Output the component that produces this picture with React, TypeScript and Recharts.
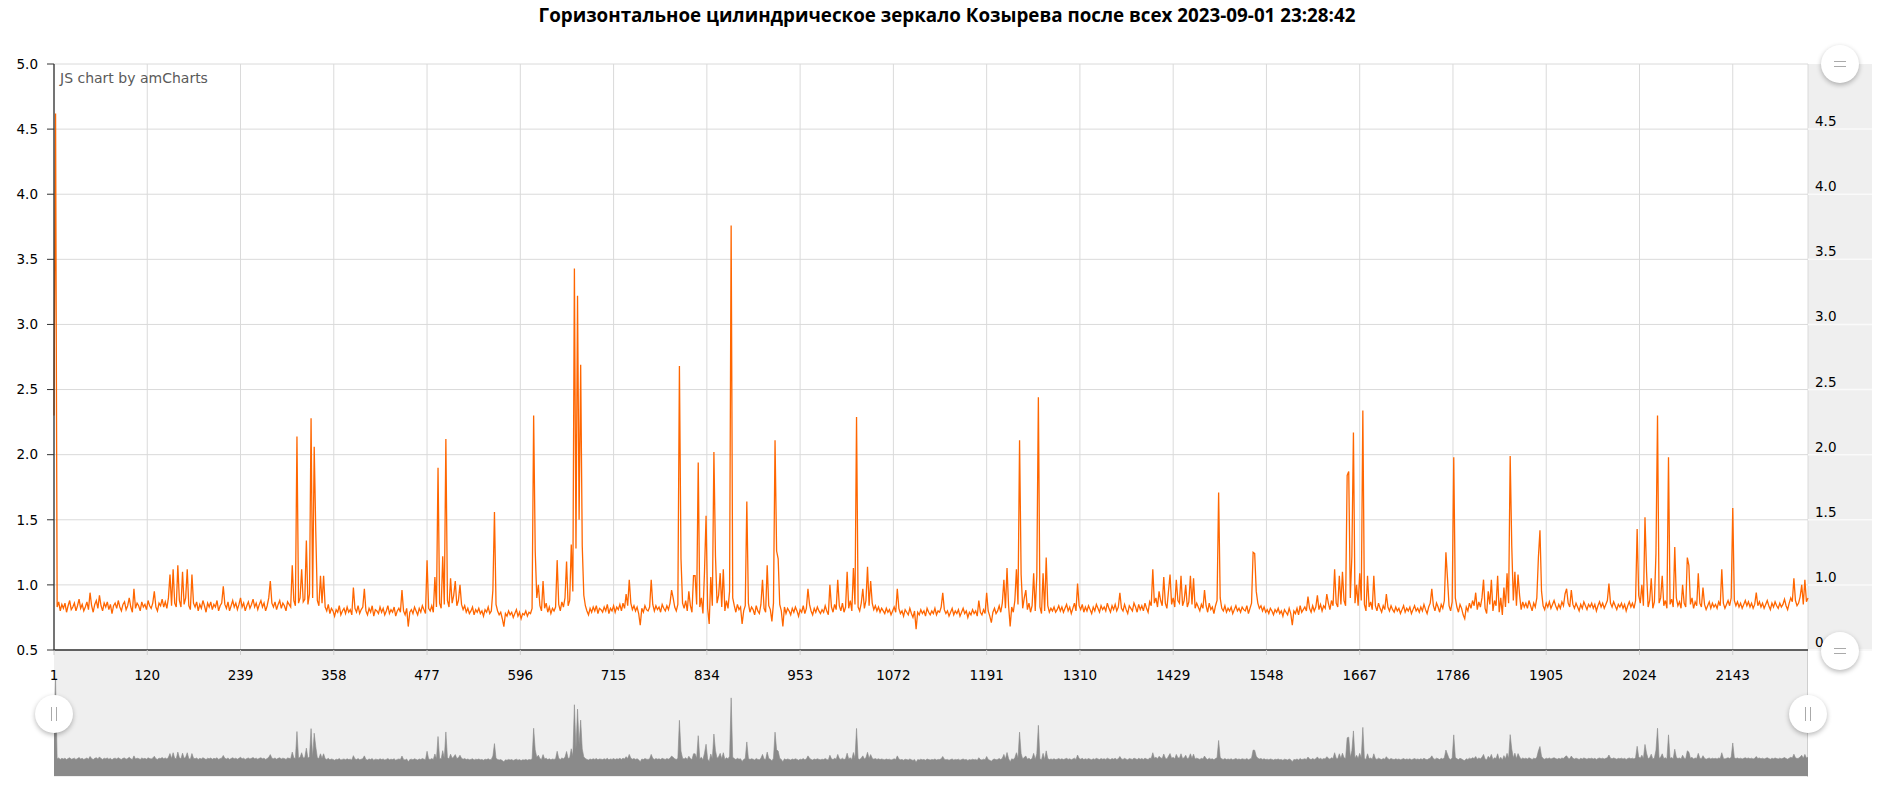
import React from 'react';
import { LineChart, Line, XAxis, YAxis, CartesianGrid, AreaChart, Area } from 'recharts';

const title = 'Горизонтальное цилиндрическое зеркало Козырева после всех 2023-09-01 23:28:42';

// sampled values (every second sample index: 1, 3, 5, ... 2239)
const segA = [
  2.3, 4.62, 0.83, 0.87, 0.8, 0.85, 0.82, 0.86, 0.79, 0.84,
  0.88, 0.81, 0.83, 0.86, 0.8, 0.84, 0.89, 0.82, 0.85, 0.8,
  0.83, 0.87, 0.81, 0.94, 0.84, 0.79, 0.85, 0.88, 0.82, 0.92,
  0.84, 0.8, 0.86, 0.83, 0.87, 0.81, 0.85, 0.78, 0.84, 0.86,
  0.82, 0.88, 0.83, 0.8, 0.85, 0.87, 0.81, 0.84, 0.9, 0.83,
  0.79, 0.97, 0.82, 0.86, 0.84, 0.8, 0.87, 0.83, 0.85, 0.81,
  0.88, 0.84, 0.82, 0.86, 0.95, 0.83, 0.8, 0.86, 0.84, 0.89,
  0.83, 0.87, 0.82, 0.9, 1.08, 0.84, 1.12, 0.86, 0.83, 1.15,
];
const segB = [
  0.88, 0.83, 1.1, 0.85, 0.9, 1.12, 0.84, 0.81, 1.08, 0.86,
  0.83, 0.87, 0.8, 0.85, 0.82, 0.88, 0.84, 0.79, 0.86, 0.83,
  0.87, 0.81, 0.85, 0.83, 0.88, 0.8, 0.84, 0.86, 0.99, 0.85,
  0.82, 0.87, 0.8, 0.84, 0.88, 0.83, 0.86, 0.81, 0.85, 0.9,
  0.83, 0.86, 0.8, 0.84, 0.87, 0.82, 0.85, 0.89, 0.83, 0.86,
  0.81, 0.85, 0.88, 0.83, 0.86, 0.8, 0.84, 0.9, 1.03, 0.86,
  0.83, 0.87, 0.81, 0.85, 0.88, 0.82, 0.86, 0.84, 0.8, 0.87,
  0.85, 0.83, 1.15, 0.88, 0.84, 2.14, 0.86, 0.9, 1.12, 0.87,
];
const segC = [
  0.89, 1.34, 0.85, 0.93, 2.28, 0.9, 2.06, 1.41, 0.88, 0.84,
  1.07, 0.86, 1.07, 0.83, 0.8, 0.85, 0.78, 0.82, 0.8, 0.76,
  0.81, 0.79, 0.84, 0.77, 0.8, 0.82, 0.78, 0.83, 0.79, 0.81,
  0.77, 0.98, 0.82, 0.79, 0.84, 0.78, 0.81, 0.83, 0.97, 0.8,
  0.77, 0.82, 0.79, 0.84, 0.76, 0.81, 0.8, 0.78, 0.83, 0.79,
  0.82, 0.77, 0.8, 0.84, 0.78, 0.81, 0.79, 0.83, 0.76, 0.8,
  0.82, 0.79, 0.96, 0.8, 0.77, 0.82, 0.68, 0.79, 0.81, 0.78,
  0.83, 0.8, 0.77, 0.82, 0.79, 0.84, 0.81, 0.78, 1.19, 0.82,
];
const segD = [
  0.8, 0.84, 0.79, 1.06, 0.83, 1.9, 0.86, 0.82, 1.22, 0.85,
  2.12, 0.88, 0.83, 1.05, 0.86, 0.92, 1.03, 0.84, 0.88, 1.0,
  0.85, 0.81, 0.84, 0.79, 0.82, 0.78, 0.8, 0.83, 0.77, 0.81,
  0.79, 0.82, 0.78, 0.8, 0.76, 0.81, 0.79, 0.83, 0.78, 0.8,
  0.96, 1.56, 0.85, 0.8, 0.77, 0.79, 0.74, 0.68, 0.78, 0.76,
  0.8, 0.77, 0.79, 0.75, 0.78, 0.81, 0.76, 0.79, 0.74, 0.78,
  0.77, 0.8, 0.76, 0.79, 0.78, 0.82, 2.3, 1.26, 0.9, 1.0,
  0.84, 0.8, 1.03, 0.82, 0.86, 0.79, 0.83, 0.78, 0.82, 0.8,
];
const segE = [
  0.83, 1.19, 0.85, 0.8, 0.87, 0.83, 0.9, 1.18, 0.84, 0.88,
  1.31, 0.95, 3.43, 1.28, 3.22, 1.5, 2.69, 1.3, 0.92, 0.84,
  0.8, 0.77, 0.82, 0.79, 0.83, 0.8, 0.84, 0.78, 0.82, 0.81,
  0.79, 0.83, 0.8, 0.85, 0.78, 0.82, 0.8, 0.84, 0.79, 0.83,
  0.81, 0.85, 0.8, 0.86, 0.82, 0.93, 0.84, 1.04, 0.86, 0.81,
  0.84, 0.8, 0.83, 0.78, 0.69, 0.82, 0.79, 0.84, 0.81, 0.8,
  0.83, 1.04, 0.85, 0.8, 0.84, 0.81, 0.83, 0.79, 0.85, 0.82,
  0.8, 0.84, 0.81, 0.86, 0.96, 0.9, 0.83, 0.8, 0.85, 2.68,
];
const segF = [
  1.2, 0.86, 0.82, 0.88, 0.8, 0.95, 0.84, 0.79, 1.07, 1.07,
  0.85, 1.94, 0.83, 0.9, 0.78, 1.1, 1.53, 0.82, 0.7, 1.06,
  0.84, 2.02, 1.22, 0.86, 0.92, 1.09, 0.83, 1.12, 0.8, 0.88,
  0.82, 0.95, 3.76, 0.9, 0.84, 0.79, 0.85, 0.81, 0.83, 0.7,
  0.8, 0.84, 1.64, 0.86, 0.79, 0.83, 0.81, 0.77, 0.84, 0.8,
  0.78, 0.85, 1.04, 0.82, 0.79, 1.15, 0.84, 0.81, 0.72, 0.86,
  2.11, 1.26, 1.2, 0.85, 0.8, 0.68, 0.83, 0.78, 0.82, 0.8,
  0.77, 0.82, 0.79, 0.83, 0.8, 0.76, 0.81, 0.79, 0.84, 0.78,
];
const segG = [
  0.82, 0.97, 0.85, 0.8, 0.77, 0.82, 0.79, 0.83, 0.8, 0.78,
  0.81, 0.79, 0.84, 0.8, 0.77, 1.0, 0.83, 0.79, 0.85, 0.81,
  1.04, 0.84, 0.8, 0.86, 0.79, 0.83, 1.1, 0.82, 0.88, 0.8,
  1.13, 0.85, 2.29, 0.83, 0.8, 0.86, 0.97, 0.82, 0.88, 1.14,
  0.84, 1.03, 0.86, 0.81, 0.84, 0.8, 0.83, 0.79, 0.82, 0.8,
  0.78, 0.82, 0.79, 0.81, 0.77, 0.8, 0.83, 0.79, 0.97, 0.82,
  0.78, 0.8, 0.76, 0.81, 0.79, 0.77, 0.82, 0.78, 0.75, 0.8,
  0.66, 0.79, 0.77, 0.81, 0.78, 0.8, 0.76, 0.82, 0.79, 0.77,
];
const segH = [
  0.8, 0.78, 0.82, 0.77, 0.8, 0.79, 0.83, 0.94, 0.81, 0.78,
  0.8, 0.76, 0.79, 0.82, 0.77, 0.8, 0.78, 0.81, 0.76, 0.79,
  0.82, 0.78, 0.8, 0.75, 0.79, 0.77, 0.81, 0.78, 0.8, 0.76,
  0.88, 0.79, 0.77, 0.81, 0.78, 0.94, 0.8, 0.76, 0.71, 0.79,
  0.82, 0.78, 0.8, 0.84, 0.79, 0.86, 1.04, 0.82, 1.13, 0.84,
  0.68, 0.83, 0.79, 0.88, 1.12, 0.85, 2.11, 1.08, 0.82, 0.9,
  0.96, 0.81, 0.86, 0.79, 0.84, 1.09, 0.8, 1.07, 2.44, 0.83,
  0.78, 1.09, 0.8, 1.21, 0.84, 0.79, 0.82, 0.8, 0.83, 0.79,
];
const segI = [
  0.81, 0.84, 0.8, 0.83, 0.79, 0.82, 0.85, 0.8, 0.83, 0.78,
  0.82, 0.86, 0.8, 1.01, 0.84, 0.81, 0.85, 0.79, 0.83, 0.8,
  0.84, 0.81, 0.78, 0.83, 0.8, 0.85, 0.82, 0.79, 0.84, 0.81,
  0.83, 0.8, 0.86, 0.82, 0.79, 0.84, 0.81, 0.85, 0.8, 0.83,
  0.94, 0.82, 0.8, 0.85, 0.81, 0.78, 0.84, 0.82, 0.8, 0.86,
  0.83, 0.79, 0.85, 0.81, 0.84, 0.8, 0.86, 0.82, 0.79, 0.87,
  0.84, 1.12, 0.86, 0.9, 0.83, 0.95, 0.88, 0.84, 1.06, 0.86,
  0.82, 0.95, 1.08, 0.85, 0.9, 0.83, 1.04, 0.88, 0.86, 1.07,
];
const segJ = [
  0.84, 0.88, 1.0, 0.83, 0.87, 1.07, 0.85, 1.05, 0.82, 0.86,
  0.83, 0.8, 0.85, 0.82, 0.96, 0.84, 0.79, 0.86, 0.81, 0.83,
  0.78, 0.84, 0.88, 1.71, 0.9, 0.82, 0.8, 0.84, 0.79, 0.82,
  0.8, 0.83, 0.78, 0.81, 0.84, 0.8, 0.82, 0.79, 0.83, 0.81,
  0.8, 0.84, 0.78, 0.82, 0.86, 1.25, 1.24, 0.95, 0.86, 0.82,
  0.84, 0.8, 0.83, 0.79, 0.81, 0.78, 0.82, 0.8, 0.77, 0.81,
  0.79, 0.82, 0.78, 0.8, 0.76, 0.81, 0.79, 0.77, 0.82, 0.78,
  0.69, 0.8, 0.78, 0.82, 0.77, 0.84, 0.79, 0.81, 0.83, 0.8,
];
const segK = [
  0.91, 0.82, 0.79, 0.84, 0.8, 0.83, 0.92, 0.81, 0.85, 0.8,
  0.84, 0.82, 0.93, 0.86, 0.81, 0.88, 0.84, 1.12, 0.86, 0.83,
  1.07, 0.85, 1.1, 0.88, 0.84, 1.84, 1.87, 0.9, 1.22, 2.17,
  0.86, 1.0, 0.84, 1.09, 0.88, 2.34, 0.85, 0.8, 1.07, 0.83,
  0.87, 0.81, 1.07, 0.84, 0.8, 0.86, 0.82, 0.79, 0.84, 0.81,
  0.93, 0.83, 0.8, 0.84, 0.81, 0.79, 0.83, 0.8, 0.82, 0.78,
  0.81, 0.84, 0.79, 0.82, 0.8, 0.83, 0.78, 0.81, 0.84, 0.8,
  0.82, 0.79, 0.83, 0.8, 0.85, 0.81, 0.78, 0.83, 0.86, 0.97,
];
const segL = [
  0.84, 0.8, 0.86, 0.83, 0.79, 0.85, 0.82, 0.88, 1.25, 1.05,
  0.84, 0.8, 0.87, 1.98, 0.9, 0.83, 0.79, 0.85, 0.82, 0.77,
  0.74, 0.83, 0.8, 0.86, 0.82, 0.88, 0.84, 0.94, 0.81, 0.87,
  0.83, 0.9, 1.04, 0.82, 0.78, 0.95, 0.85, 1.04, 0.8, 0.88,
  0.84, 1.07, 0.79, 0.9, 0.77, 0.98, 0.83, 1.09, 0.86, 1.99,
  1.3, 0.88, 1.1, 0.84, 1.08, 0.92, 0.81, 0.87, 0.83, 0.86,
  0.82, 0.88, 0.84, 0.8, 0.86, 0.83, 0.9, 1.21, 1.42, 0.95,
  0.84, 0.81, 0.86, 0.83, 0.87, 0.82, 0.85, 0.88, 0.84, 0.81,
];
const segM = [
  0.85, 0.82, 0.87, 0.84, 0.93, 0.97, 0.86, 0.83, 0.96, 0.85,
  0.82, 0.86, 0.83, 0.8, 0.85, 0.82, 0.87, 0.84, 0.81, 0.85,
  0.83, 0.86, 0.82, 0.85, 0.8, 0.84, 0.87, 0.83, 0.86, 0.82,
  0.85, 0.88, 1.01, 0.86, 0.83, 0.87, 0.84, 0.81, 0.85, 0.83,
  0.86, 0.82, 0.85, 0.8, 0.84, 0.87, 0.83, 0.86, 0.82, 0.88,
  1.43, 0.92, 0.86, 1.0, 0.84, 1.52, 1.1, 0.83, 0.88, 1.05,
  0.82, 0.87, 1.24, 2.3, 0.86, 0.9, 1.07, 0.84, 0.88, 0.82,
  1.98, 0.85, 0.89, 0.83, 1.29, 0.9, 0.84, 0.87, 0.82, 1.0,
];
const segN = [
  0.86, 0.83, 1.21, 1.15, 0.85, 0.9, 0.82, 0.87, 0.84, 1.09,
  0.86, 0.83, 0.98, 0.85, 0.81, 0.84, 0.87, 0.82, 0.86, 0.83,
  0.85, 0.82, 0.87, 0.84, 1.12, 0.86, 0.82, 0.85, 0.88, 0.84,
  0.9, 1.59, 0.88, 0.84, 0.87, 0.83, 0.86, 0.82, 0.85, 0.88,
  0.84, 0.87, 0.83, 0.86, 0.82, 0.85, 0.94, 0.84, 0.87, 0.83,
  0.86, 0.82, 0.85, 0.88, 0.84, 0.81, 0.86, 0.83, 0.87, 0.84,
  0.82, 0.86, 0.83, 0.85, 0.89, 0.84, 0.81, 0.86, 0.9, 0.87,
  1.05, 0.88, 0.84, 0.86, 0.91, 1.0, 0.85, 1.04, 0.87, 0.9,
];

const values = [
  ...segA, ...segB, ...segC, ...segD, ...segE, ...segF, ...segG,
  ...segH, ...segI, ...segJ, ...segK, ...segL, ...segM, ...segN,
];
const sampleIndex = values.map((_, i) => 1 + 2 * i);
const data = values.map((v, i) => ({ x: sampleIndex[i], v }));

const xDomain: [number, number] = [1, 2239];
const xTicks = [1, 120, 239, 358, 477, 596, 715, 834, 953, 1072, 1191, 1310, 1429, 1548, 1667, 1786, 1905, 2024, 2143];
const yTicks = [0.5, 1, 1.5, 2, 2.5, 3, 3.5, 4, 4.5, 5];
const rightTicks = [0.5, 1, 1.5, 2, 2.5, 3, 3.5, 4, 4.5];
const rightTickLabels = ['0', '1.0', '1.5', '2.0', '2.5', '3.0', '3.5', '4.0', '4.5'];

const FONT = '"DejaVu Sans", Verdana, sans-serif';

const RightTick = (props: any) => {
  const { x, y, payload } = props;
  const idx = rightTicks.indexOf(payload.value);
  return (
    <g>
      <line x1={x - 7} x2={x + 57} y1={y} y2={y} stroke="#fafafa" strokeWidth={1.5} />
      <text x={x} y={y - 3} fontSize={13.5} fill="#000" fontFamily={FONT} textAnchor="start">
        {rightTickLabels[idx]}
      </text>
    </g>
  );
};

const Button = ({ cx, cy, kind }: { cx: number; cy: number; kind: 'h' | 'v' }) => (
  <div
    style={{
      position: 'absolute',
      left: cx - 19,
      top: cy - 19,
      width: 38,
      height: 38,
      borderRadius: '50%',
      background: '#fff',
      boxShadow: '0 2px 5px rgba(0,0,0,0.28)',
      zIndex: 5,
    }}
  >
    {kind === 'h' ? (
      <>
        <div style={{ position: 'absolute', left: 13, top: 16, width: 12, height: 1, background: '#aaa' }} />
        <div style={{ position: 'absolute', left: 13, top: 21, width: 12, height: 1, background: '#aaa' }} />
      </>
    ) : (
      <>
        <div style={{ position: 'absolute', left: 16, top: 12, width: 1, height: 14, background: '#aaa' }} />
        <div style={{ position: 'absolute', left: 21, top: 12, width: 1, height: 14, background: '#aaa' }} />
      </>
    )}
  </div>
);

export default function App() {
  return (
    <div style={{ position: 'absolute', left: 0, top: 0, width: 1882, height: 787, background: '#fff', overflow: 'hidden', fontFamily: FONT }}>
      <div
        style={{
          position: 'absolute', left: 6, top: 4, width: 1882, textAlign: 'center', whiteSpace: 'nowrap',
          fontFamily: '"Open Sans", sans-serif', fontWeight: 700, fontSize: 18.8, lineHeight: '22px', color: '#000',
        }}
      >
        {title}
      </div>

      {/* right value strip */}
      <div style={{ position: 'absolute', left: 1808, top: 64, width: 64, height: 587, background: '#efefef' }} />
      {/* bottom scrollbar background */}
      <div style={{ position: 'absolute', left: 54, top: 650, width: 1754, height: 127, background: '#efefef' }} />
      <div style={{ position: 'absolute', left: 1807, top: 651, width: 1, height: 126, background: '#cfcfcf' }} />

      <div style={{ position: 'absolute', left: 54, top: 680, zIndex: 2 }}>
        <AreaChart width={1754} height={96} data={data} margin={{ top: 0, right: 0, bottom: 0, left: 0 }}>
          <XAxis dataKey="x" type="number" domain={xDomain} hide />
          <YAxis domain={[0, 'dataMax']} hide />
          <Area type="linear" dataKey="v" stroke="#8a8a8a" strokeWidth={0.6} fill="#8a8a8a" fillOpacity={1} isAnimationActive={false} dot={false} activeDot={false} />
        </AreaChart>
      </div>

      <div style={{ position: 'absolute', left: 0, top: 0, zIndex: 3 }}>
        <LineChart width={1882} height={700} data={data} margin={{ top: 64, right: 0, bottom: 0, left: 0 }}>
          <CartesianGrid stroke="#dadada" strokeWidth={1} />
          <XAxis
            dataKey="x"
            type="number"
            domain={xDomain}
            ticks={xTicks}
            interval={0}
            height={50}
            axisLine={{ stroke: '#333', strokeWidth: 1.3 }}
            tickLine={{ stroke: '#d0d0d0' }}
            tickSize={5}
            tickMargin={15}
            tick={{ fontSize: 13.5, fill: '#000', fontFamily: FONT }}
          />
          <YAxis
            yAxisId={0}
            domain={[0.5, 5]}
            ticks={yTicks}
            interval={0}
            width={54}
            allowDataOverflow
            axisLine={{ stroke: '#333', strokeWidth: 1.3 }}
            tickLine={{ stroke: '#333' }}
            tickSize={7}
            tickMargin={9}
            tickFormatter={(v: number) => v.toFixed(1)}
            tick={{ fontSize: 13.5, fill: '#000', fontFamily: FONT }}
          />
          <YAxis
            yAxisId="right"
            orientation="right"
            domain={[0.5, 5]}
            ticks={rightTicks}
            interval={0}
            width={74}
            allowDataOverflow
            axisLine={false}
            tickLine={false}
            tickSize={0}
            tickMargin={7}
            tick={<RightTick />}
          />
          <Line yAxisId="right" type="linear" dataKey="v" stroke="transparent" strokeWidth={0} dot={false} activeDot={false} isAnimationActive={false} />
          <Line yAxisId={0} type="linear" dataKey="v" stroke="#ff6600" strokeWidth={1.3} dot={false} activeDot={false} isAnimationActive={false} />
        </LineChart>
      </div>

      <div style={{ position: 'absolute', left: 60, top: 70, fontSize: 14, lineHeight: '16px', color: '#5a5a5a', fontFamily: FONT, zIndex: 4 }}>
        JS chart by amCharts
      </div>

      <Button cx={1840} cy={64} kind="h" />
      <Button cx={1840} cy={651} kind="h" />
      <Button cx={54} cy={714} kind="v" />
      <Button cx={1808} cy={714} kind="v" />
    </div>
  );
}
